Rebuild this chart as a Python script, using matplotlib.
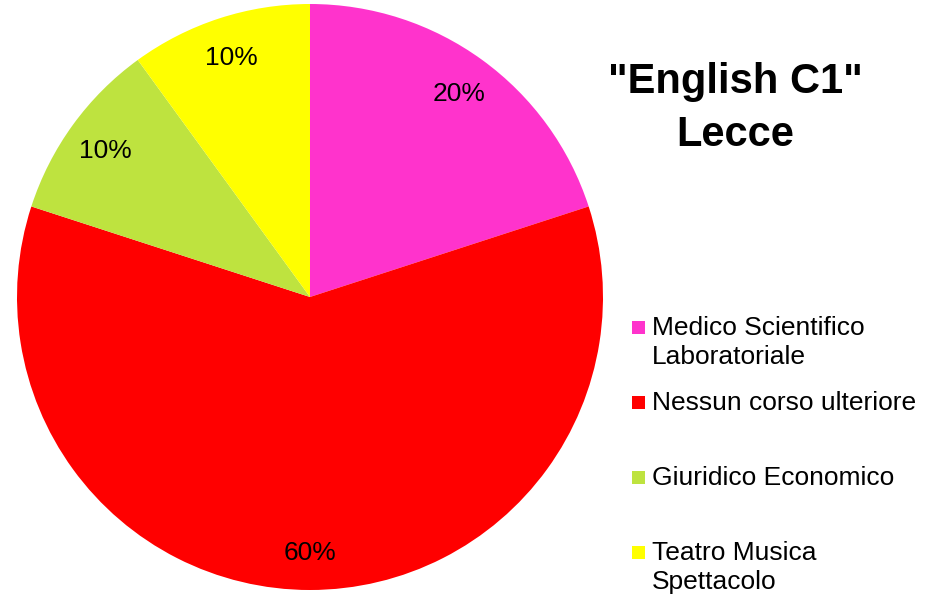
import matplotlib
matplotlib.use("Agg")
import matplotlib.pyplot as plt
from matplotlib.patches import Rectangle

plt.rcParams['font.family'] = ['Liberation Sans', 'DejaVu Sans']

# data
labels = [["Medico Scientifico", "Laboratoriale"],
          ["Nessun corso ulteriore"],
          ["Giuridico Economico"],
          ["Teatro Musica", "Spettacolo"]]
shares = [20, 60, 10, 10]
colors = ["#FF33CC", "#FF0000", "#BEE33F", "#FFFF00"]
title_lines = ['"English C1"', 'Lecce']

W, H = 937, 595
fig = plt.figure(figsize=(W / 100, H / 100), dpi=100)

# pie axes: square box in pixels
cx, cy, r = 310, 297, 293
ax = fig.add_axes([(cx - r) / W, (H - cy - r) / H, 2 * r / W, 2 * r / H])
wedges, texts, autotexts = ax.pie(shares, colors=colors, startangle=90,
                                  counterclock=False, autopct='%1.0f%%',
                                  pctdistance=0.865,
                                  wedgeprops=dict(linewidth=0),
                                  textprops=dict(fontsize=19, color='black'))
for t in autotexts:
    t.set_va('center_baseline')
ax.set_xlim(-1, 1)
ax.set_ylim(-1, 1)
ax.axis('off')

# title
for i, line in enumerate(title_lines):
    fig.text(735 / W, 1 - (93 + i * 53) / H, line, ha='center', va='baseline',
             fontsize=30, fontweight='bold')

# legend, drawn by hand to keep Excel-like spacing
for i, (lab, col) in enumerate(zip(labels, colors)):
    base = 335 + i * 75
    fig.patches.append(Rectangle((632 / W, 1 - (base - 1) / H), 13 / W, 13 / H,
                                 transform=fig.transFigure, facecolor=col,
                                 edgecolor='none'))
    for j, line in enumerate(lab):
        fig.text(652 / W, 1 - (base + j * 28.5) / H, line, ha='left',
                 va='baseline', fontsize=19)

fig.savefig("out.png", dpi=100)
